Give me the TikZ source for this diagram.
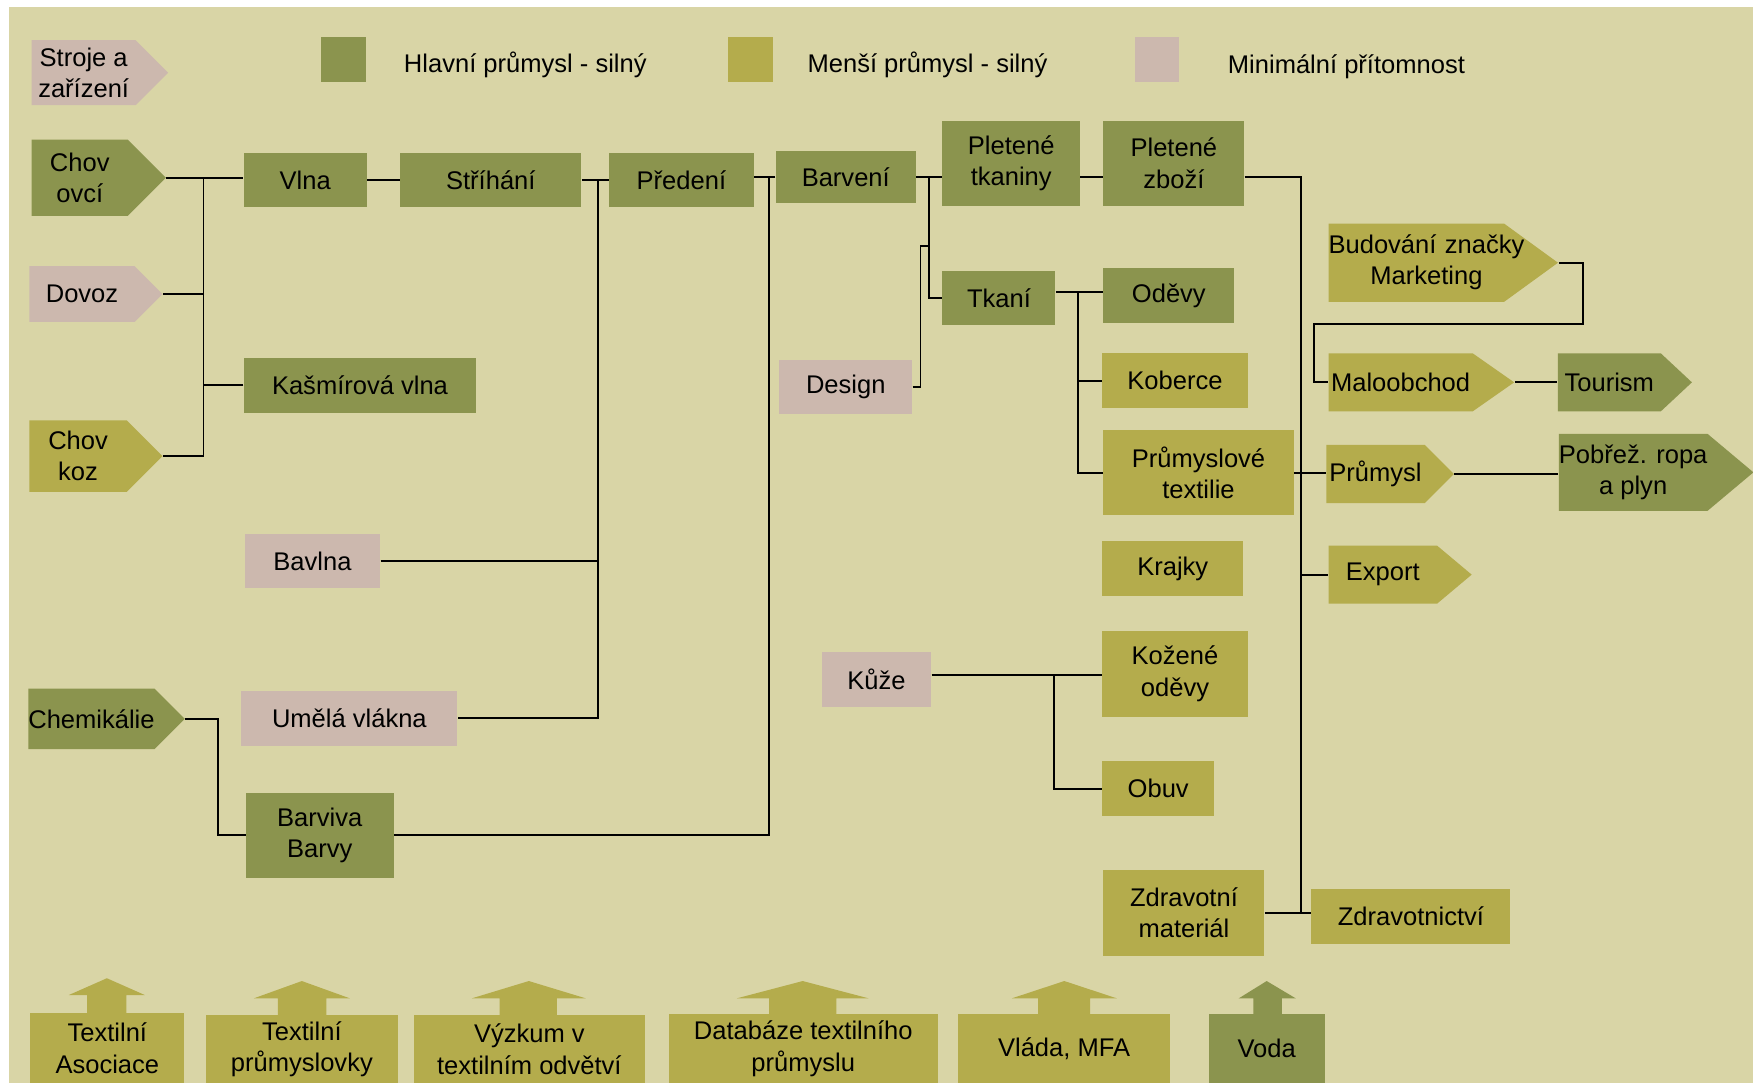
\documentclass[tikz,border=0pt]{standalone}
\usepackage{fontspec}
\setmainfont{Liberation Sans}
\usetikzlibrary{shapes.symbols}

\definecolor{pozadi}{RGB}{217,213,166}
\definecolor{hlavni}{RGB}{139,148,78}
\definecolor{mensi}{RGB}{180,172,76}
\definecolor{minim}{RGB}{204,184,174}
\newcommand{\lab}{\fontsize{13pt}{16pt}\selectfont}

\tikzset{
  blok/.style={rectangle, inner sep=0pt, align=center, font=\lab},
  sipka/.style={signal, signal to=east, inner sep=0pt, align=center, font=\lab, anchor=west},
  wh/.style 2 args={minimum width=#1*0.02cm, minimum height=#2*0.02cm},
  spoj/.style={line width=0.9pt, black},
}

\begin{document}
\begin{tikzpicture}[x=0.02cm, y=-0.02cm]
    % Background
    \useasboundingbox (0,0) rectangle (1568,969);
    \fill[white] (0,0) rectangle (1568,969);
    \fill[pozadi] (8,6) rectangle (1568,969);

    % Legend
    \node[sipka, fill=minim, wh={122}{58}] (stroje) at (28,65) {Stroje a\\zařízení};
    \node[blok, fill=hlavni, wh={40}{40}] (leg1) at (307,53) {};
    \node[blok, anchor=west] (leg1t) at (361,58) {Hlavní průmysl - silný};
    \node[blok, fill=mensi, wh={40}{40}] (leg2) at (671,53) {};
    \node[blok, anchor=west] (leg2t) at (722,58) {Menší průmysl - silný};
    \node[blok, fill=minim, wh={40}{40}] (leg3) at (1035,53) {};
    \node[blok, anchor=west] (leg3t) at (1098,60) {Minimální přítomnost};

    % Raw materials
    \node[sipka, fill=hlavni, wh={120}{68}] (ovce) at (28,159) {Chov\\ovcí};
    \node[sipka, fill=minim, wh={119}{50}] (dovoz) at (26,263) {Dovoz};
    \node[sipka, fill=mensi, wh={119}{64}] (koza) at (26,408) {Chov\\koz};
    \node[sipka, fill=hlavni, wh={128}{54}] (chem) at (25,643) {Chemikálie};
    \node[blok, fill=hlavni, wh={110}{48}] (vlna) at (273,161) {Vlna};
    \node[blok, fill=hlavni, wh={208}{49}] (kasmir) at (322,344.5) {Kašmírová vlna};
    \node[blok, fill=minim, wh={121}{48}] (bavlna) at (279.5,502) {Bavlna};
    \node[blok, fill=minim, wh={193}{49}] (umela) at (312.5,642.5) {Umělá vlákna};
    \node[blok, fill=hlavni, wh={132}{76}] (barviva) at (286,747) {Barviva\\Barvy};

    % Processing
    \node[blok, fill=hlavni, wh={162}{48}] (strihani) at (439,161) {Stříhání};
    \node[blok, fill=hlavni, wh={129}{48}] (predeni) at (609.5,161) {Předení};
    \node[blok, fill=hlavni, wh={125}{47}] (barveni) at (756.5,158.5) {Barvení};
    \node[blok, fill=minim, wh={119}{48}] (design) at (756.5,346) {Design};
    \node[blok, fill=hlavni, wh={123}{76}] (pltk) at (904.5,146) {Pletené\\tkaniny};
    \node[blok, fill=hlavni, wh={126}{76}] (plzb) at (1050,146) {Pletené\\zboží};
    \node[blok, fill=hlavni, wh={101}{49}] (tkani) at (893.5,266.5) {Tkaní};
    \node[blok, fill=minim, wh={98}{49}] (kuze) at (784,607.5) {Kůže};

    % Products
    \node[blok, fill=hlavni, wh={117}{49}] (odevy) at (1045.5,264.5) {Oděvy};
    \node[blok, fill=mensi, wh={130}{49}] (koberce) at (1051,340.5) {Koberce};
    \node[blok, fill=mensi, wh={170}{76}] (prtex) at (1072,423) {Průmyslové\\textilie};
    \node[blok, fill=mensi, wh={126}{49}] (krajky) at (1049,508.5) {Krajky};
    \node[blok, fill=mensi, wh={130}{77}] (kozod) at (1051,602.5) {Kožené\\oděvy};
    \node[blok, fill=mensi, wh={100}{49}] (obuv) at (1036,705.5) {Obuv};
    \node[blok, fill=mensi, wh={144}{77}] (zdmat) at (1059,816.5) {Zdravotní\\materiál};

    % Markets
    \node[sipka, fill=mensi, wh={205}{70}, signal pointer angle=72, text width=157*0.02cm, align=left] (brand) at (1188,235)
        {\begin{tabular}{@{}c@{}}Budování značky\\Marketing\end{tabular}};
    \node[sipka, fill=mensi, wh={166}{52}, signal pointer angle=70] (malo) at (1188,342) {Maloobchod};
    \node[sipka, fill=hlavni, wh={120}{52}, signal pointer angle=86] (tour) at (1393,342) {Tourism};
    \node[sipka, fill=mensi, wh={114}{52}] (prumysl) at (1186,424) {Průmysl};
    \node[sipka, fill=hlavni, wh={172}{69}, signal pointer angle=80] (pobrez) at (1394,422.5) {Pobřež. ropa\\a plyn};
    \node[sipka, fill=mensi, wh={128}{52}, signal pointer angle=80] (export) at (1188,514) {Export};
    \node[blok, fill=mensi, wh={178}{49}] (zdrav) at (1262,819.5) {Zdravotnictví};

    % Connectors - wool and cashmere
    \coordinate (kL) at (182,159);
    \draw[spoj] (ovce.east) -- (ovce.east -| vlna.west);
    \draw[spoj] (kL) |- (koza.east);
    \draw[spoj] (dovoz.east) -- (dovoz.east -| kL);
    \draw[spoj] (kasmir.west) -- (kasmir.west -| kL);
    \draw[spoj] (vlna) -- (strihani);

    % Connectors - spinning
    \coordinate (kP) at (535,161);
    \draw[spoj] (strihani) -- (predeni);
    \draw[spoj] (kP) |- (umela.east);
    \draw[spoj] (bavlna.east) -- (bavlna.east -| kP);

    % Connectors - dyeing
    \coordinate (kB) at (688,158.5);
    \draw[spoj] (barveni.west) -- (barveni.west -| predeni.east);
    \draw[spoj] (kB) |- (barviva.east);
    \draw[spoj] (chem.east) -- ++(29,0) |- (barviva.west);

    % Connectors - knitting and weaving
    \coordinate (kT) at (831,158.5);
    \coordinate (kD) at (831,220);
    \draw[spoj] (barveni.east) -- (pltk.west |- barveni.east);
    \draw[spoj] (kT) |- (tkani.west);
    \draw[spoj] (design.east) -- ++(7,0) |- (kD);
    \draw[spoj] (pltk.east |- barveni.east) -- (plzb.west |- barveni.east);

    \coordinate (kK) at (964,261);
    \draw[spoj] (tkani.east |- kK) -- (odevy.west |- kK);
    \draw[spoj] (kK) |- (prtex.west);
    \draw[spoj] (koberce.west) -- (koberce.west -| kK);

    \coordinate (kZ) at (943,604);
    \draw[spoj] (kuze.east |- kZ) -- (kozod.west |- kZ);
    \draw[spoj] (kZ) |- (obuv.west);

    % Connectors - markets
    \coordinate (kR) at (1164,158.5);
    \draw[spoj] (plzb.east |- barveni.east) -- (kR) -- (kR |- zdmat.east);
    \draw[spoj] (zdmat.east) -- (zdmat.east -| zdrav.west);
    \draw[spoj] (prtex.east) -- (prtex.east -| prumysl.west);
    \draw[spoj] (kR |- export.west) -- (export.west);
    \draw[spoj] (prumysl.east) -- (prumysl.east -| pobrez.west);
    \draw[spoj] (brand.east) -- ++(22,0) -- ++(0,55) -| ([xshift=-0.26cm]malo.west) -- (malo.west);
    \draw[spoj] (malo.east) -- (tour.west);

    % Support (bottom row)
    \fill[mensi] (78,907) -- (78,890) -- (61.6,890) -- (95.6,875) -- (129.5,890) -- (113,890) -- (113,907) -- cycle;
    \fill[mensi] (248.5,909) -- (248.5,893) -- (227,893) -- (270,877.5) -- (313,893) -- (292,893) -- (292,909) -- cycle;
    \fill[mensi] (447,909) -- (447,893) -- (422,893) -- (473,877.5) -- (524,893) -- (498,893) -- (498,909) -- cycle;
    \fill[mensi] (688,908) -- (688,893) -- (659,893) -- (718,877.5) -- (777,893) -- (748,893) -- (748,908) -- cycle;
    \fill[mensi] (928.6,908) -- (928.6,893) -- (905,893) -- (952,877.5) -- (999,893) -- (975,893) -- (975,908) -- cycle;
    \fill[hlavni] (1121,908) -- (1121,893) -- (1108,893) -- (1133,877.5) -- (1159,893) -- (1146.5,893) -- (1146.5,908) -- cycle;
    \node[blok, fill=mensi, wh={138}{63}] (asoc) at (96,937.5) {Textilní\\Asociace};
    \node[blok, fill=mensi, wh={172}{61}] (skoly) at (270,938.5) {Textilní\\průmyslovky};
    \node[blok, fill=mensi, wh={207}{61}] (vyzkum) at (473.5,938.5) {Výzkum v\\textilním odvětví};
    \node[blok, fill=mensi, wh={241}{62}] (databaze) at (718.5,938) {Databáze textilního\\průmyslu};
    \node[blok, fill=mensi, wh={189.5}{62}] (vlada) at (951.75,938) {Vláda, MFA};
    \node[blok, fill=hlavni, wh={104}{62}] (voda) at (1133,938) {Voda};
\end{tikzpicture}
\end{document}
